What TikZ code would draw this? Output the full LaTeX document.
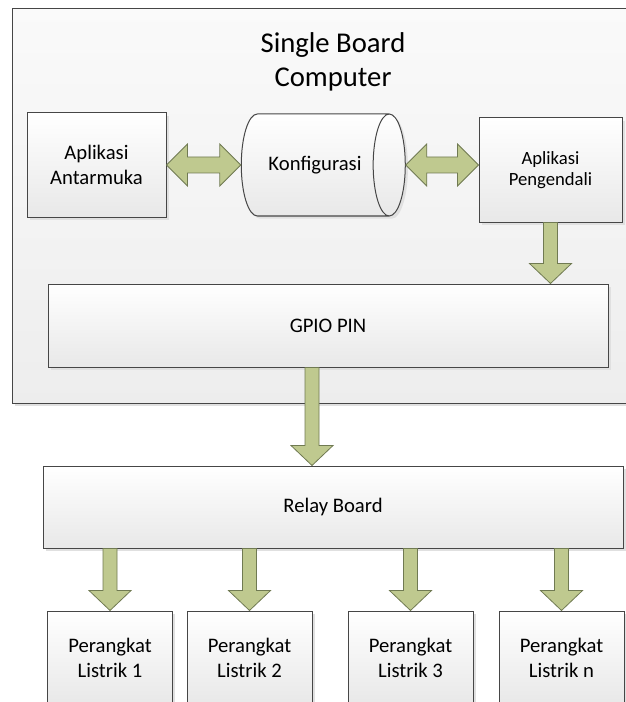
\documentclass[tikz,border=0pt]{standalone}
\usepackage{fontspec}
\setmainfont{Carlito}
\usetikzlibrary{calc}
\usetikzlibrary{shapes.geometric,shadows}
\definecolor{arrowfill}{RGB}{191,201,143}
\definecolor{arrowline}{RGB}{112,122,82}
\definecolor{boxline}{RGB}{70,70,70}

\begin{document}
\begin{tikzpicture}[x=0.75pt,y=-0.75pt,
    block/.style = {draw=boxline, line width=0.75pt, top color=white, bottom color=black!9,
        drop shadow={shadow xshift=2pt, shadow yshift=-2pt, fill=black!12, opacity=1},
        align=center, inner sep=0pt, font=\fontsize{15.5}{18.75}\selectfont},
    outer/.style = {block, top color=black!2, bottom color=black!7},
    tube/.style = {block, cylinder, aspect=1.8},
    fatdown/.style = {draw=arrowline, fill=arrowfill, line width=0.6pt,
        to path={let \p1=(\tikztostart), \p2=(\tikztotarget) in
        (\x1-5.25pt,\y1) -- (\x1-5.25pt,\y2+15pt) -- (\x1-15.75pt,\y2+15pt) -- (\x1,\y2)
        -- (\x1+15.75pt,\y2+15pt) -- (\x1+5.25pt,\y2+15pt) -- (\x1+5.25pt,\y1) -- cycle}},
    fatboth/.style = {draw=arrowline, fill=arrowfill, line width=0.6pt,
        to path={let \p1=(\tikztostart), \p2=(\tikztotarget) in
        (\x1,\y1) -- (\x1+15.75pt,\y1+15.75pt) -- (\x1+15.75pt,\y1+6pt) -- (\x2-15.75pt,\y1+6pt)
        -- (\x2-15.75pt,\y1+15.75pt) -- (\x2,\y1) -- (\x2-15.75pt,\y1-15.75pt) -- (\x2-15.75pt,\y1-6pt)
        -- (\x1+15.75pt,\y1-6pt) -- (\x1+15.75pt,\y1-15.75pt) -- cycle}}]
\useasboundingbox (0,0) rectangle (625,702);

    \node[outer, minimum width=481.5pt, minimum height=295.5pt] (sbc) at (333,206) {};
    \node[font=\fontsize{21.5}{25.5}\selectfont, align=center] (title) at (333,62) {Single Board\\Computer};

    \node[block, minimum width=104.25pt, minimum height=78pt] (antarmuka) at (96.5,165) {Aplikasi\\Antarmuka};
    \node[tube, minimum width=76.5pt, minimum height=123pt] (konfig) at (315,165) {Konfigurasi};
    \node[block, minimum width=107.25pt, minimum height=78pt,
        font=\fontsize{14}{15.75}\selectfont] (pengendali) at (550.5,170) {Aplikasi\\Pengendali};
    \node[block, minimum width=420pt, minimum height=62.25pt] (gpio) at (328,325.5) {GPIO PIN};
    \coordinate (gpioout) at ([xshift=-12pt]gpio.south);

    \node[block, minimum width=435pt, minimum height=61.5pt] (relay) at (333,507) {Relay Board};

    \node[block, minimum width=93.75pt, minimum height=69.75pt] (dev1) at (110,657.5) {Perangkat\\Listrik 1};
    \node[block, minimum width=93.75pt, minimum height=69.75pt] (dev2) at (249.5,657.5) {Perangkat\\Listrik 2};
    \node[block, minimum width=93.75pt, minimum height=69.75pt] (dev3) at (410.5,657.5) {Perangkat\\Listrik 3};
    \node[block, minimum width=93.75pt, minimum height=69.75pt] (devn) at (561.5,657.5) {Perangkat\\Listrik n};

    \draw[fatboth] (antarmuka.east) to (konfig.west);
    \draw[fatboth] (konfig.east) to (pengendali.west |- konfig.east);
    \draw[fatdown] (pengendali.south) to (gpio.north -| pengendali.south);
    \draw[fatdown] (gpioout) to (relay.north -| gpioout);
    \draw[fatdown] (relay.south -| dev1.north) to (dev1.north);
    \draw[fatdown] (relay.south -| dev2.north) to (dev2.north);
    \draw[fatdown] (relay.south -| dev3.north) to (dev3.north);
    \draw[fatdown] (relay.south -| devn.north) to (devn.north);
\end{tikzpicture}
\end{document}
